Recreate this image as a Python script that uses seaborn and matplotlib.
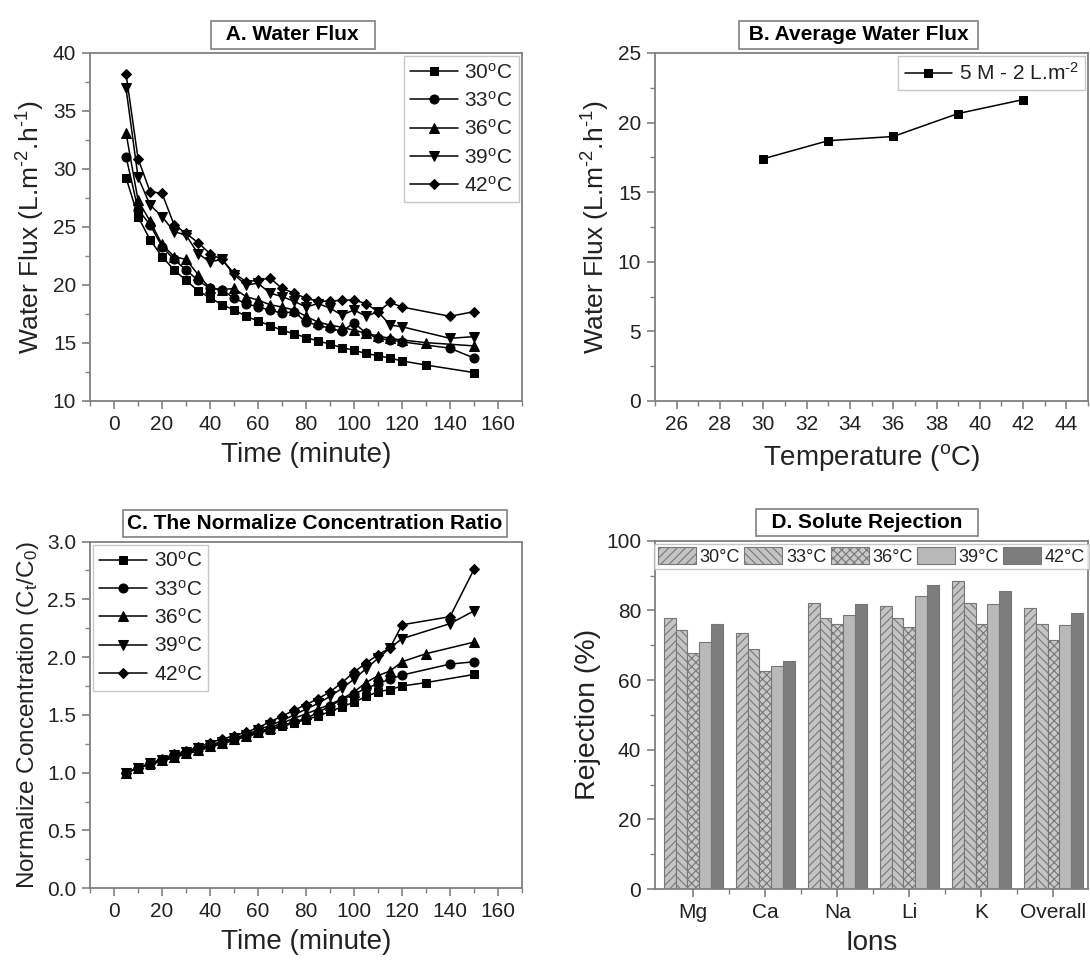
import matplotlib
matplotlib.use("Agg")
import matplotlib.pyplot as plt
import seaborn as sns
import pandas as pd
from matplotlib.ticker import MultipleLocator, FixedLocator, FormatStrFormatter

# ---------------- data ----------------
temps_labels = ["30", "33", "36", "39", "42"]

# Panel A: water flux vs time
tA_30 = [5,10,15,20,25,30,35,40,45,50,55,60,65,70,75,80,85,90,95,100,105,110,115,120,130,150]
fA_30 = [29.25,25.9,23.9,22.45,21.3,20.4,19.5,18.9,18.3,17.85,17.3,16.9,16.5,16.1,15.8,15.47,15.18,14.9,14.6,14.37,14.1,13.9,13.7,13.45,13.1,12.45]
tA_33 = [5,10,15,20,25,30,35,40,45,50,55,60,65,70,75,80,85,90,95,100,105,110,115,120,140,150]
fA_33 = [31.06,26.5,25.2,23.3,22.2,21.3,20.4,19.7,19.6,18.85,18.4,18.1,17.85,17.56,17.7,16.8,16.55,16.27,16.0,16.75,15.84,15.4,15.26,15.1,14.55,13.7]
tA_36 = [5,10,15,20,25,30,35,40,45,50,55,60,65,70,75,80,85,90,95,100,105,110,115,120,130,150]
fA_36 = [33.1,27.3,25.5,23.5,22.45,22.2,20.9,19.7,19.6,19.7,19.0,18.7,18.3,18.1,17.85,17.3,16.8,16.55,16.35,16.1,15.84,15.6,15.4,15.26,15.03,14.75]
tA_39 = [5,10,15,20,25,30,35,40,45,50,55,60,65,70,75,80,85,90,95,100,105,110,115,120,140,150]
fA_39 = [36.95,29.3,26.9,25.9,24.6,24.3,22.7,22.0,22.2,20.9,20.0,20.15,19.3,19.0,18.6,18.1,18.4,18.0,17.4,17.85,17.3,17.7,16.55,16.4,15.4,15.55]
tA_42 = [5,10,15,20,25,30,35,40,45,50,55,60,65,70,75,80,85,90,95,100,105,110,115,120,140,150]
fA_42 = [38.2,30.9,28.05,27.9,25.2,24.45,23.65,22.7,22.2,21.0,20.3,20.4,20.6,19.7,19.3,18.85,18.6,18.6,18.7,18.7,18.4,17.7,18.5,18.1,17.3,17.7]

# Panel B: average water flux vs temperature
tempB = [30, 33, 36, 39, 42]
fluxB = [17.4, 18.7, 19.0, 20.65, 21.65]

# Panel C: normalized concentration vs time
tC_30 = [5,10,15,20,25,30,35,40,45,50,55,60,65,70,75,80,85,90,95,100,105,110,115,120,130,150]
cC_30 = [1.00,1.04,1.07,1.10,1.13,1.16,1.19,1.22,1.25,1.28,1.31,1.34,1.37,1.40,1.43,1.46,1.49,1.53,1.57,1.61,1.66,1.70,1.72,1.75,1.78,1.85]
tC_33 = [5,10,15,20,25,30,35,40,45,50,55,60,65,70,75,80,85,90,95,100,105,110,115,120,140,150]
cC_33 = [1.00,1.04,1.08,1.11,1.14,1.17,1.20,1.23,1.26,1.29,1.32,1.35,1.38,1.41,1.44,1.47,1.52,1.58,1.63,1.68,1.73,1.77,1.81,1.845,1.94,1.96]
tC_36 = [5,10,15,20,25,30,35,40,45,50,55,60,65,70,75,80,85,90,95,100,105,110,115,120,130,150]
cC_36 = [1.00,1.04,1.08,1.11,1.14,1.17,1.20,1.23,1.26,1.29,1.32,1.35,1.39,1.43,1.47,1.51,1.55,1.59,1.64,1.70,1.78,1.84,1.88,1.96,2.03,2.13]
tC_39 = [5,10,15,20,25,30,35,40,45,50,55,60,65,70,75,80,85,90,95,100,105,110,115,120,140,150]
cC_39 = [1.00,1.04,1.08,1.11,1.15,1.18,1.21,1.24,1.27,1.30,1.33,1.37,1.41,1.45,1.50,1.55,1.60,1.66,1.73,1.81,1.90,1.99,2.08,2.16,2.29,2.40]
tC_42 = [5,10,15,20,25,30,35,40,45,50,55,60,65,70,75,80,85,90,95,100,105,110,115,120,140,150]
cC_42 = [1.00,1.04,1.08,1.12,1.16,1.19,1.22,1.26,1.29,1.32,1.35,1.39,1.44,1.49,1.54,1.59,1.64,1.70,1.78,1.87,1.95,2.02,2.08,2.28,2.35,2.76]

# Panel D: solute rejection
ions = ["Mg", "Ca", "Na", "Li", "K", "Overall"]
rej_30 = [77.8, 73.6, 82.0, 81.4, 88.5, 80.7]
rej_33 = [74.3, 68.9, 77.7, 77.7, 82.0, 76.2]
rej_36 = [67.7, 62.6, 76.0, 75.1, 76.0, 71.5]
rej_39 = [71.0, 63.9, 78.6, 84.2, 81.8, 75.8]
rej_42 = [76.2, 65.6, 81.8, 87.2, 85.6, 79.3]

# ---------------- style ----------------
sns.set_style("ticks")
plt.rcParams["font.family"] = ["Liberation Sans", "DejaVu Sans"]
plt.rcParams["mathtext.fontset"] = "custom"
plt.rcParams["mathtext.rm"] = "Liberation Sans"
plt.rcParams["mathtext.it"] = "Liberation Sans:italic"
plt.rcParams["mathtext.bf"] = "Liberation Sans:bold"
plt.rcParams["hatch.linewidth"] = 0.8

SPINE = "#808080"
TXT = "#222222"
TICK_FS = 15
XLAB_FS = 20
YLAB_FS = 19
LEG_FS = 15
TITLE_FS = 15

fig = plt.figure(figsize=(10.9, 9.63), dpi=100)
axA = fig.add_axes([0.0826, 0.5836, 0.3963, 0.3614])
axB = fig.add_axes([0.6010, 0.5836, 0.3972, 0.3614])
axC = fig.add_axes([0.0826, 0.0776, 0.3963, 0.3600])
axD = fig.add_axes([0.6010, 0.0768, 0.3972, 0.3617])


def style_axes(ax):
    for s in ax.spines.values():
        s.set_visible(True)
        s.set_color(SPINE)
        s.set_linewidth(1.3)
    ax.tick_params(which="major", direction="out", length=6, width=1.2,
                   color=SPINE, labelsize=TICK_FS, labelcolor=TXT, pad=4)
    ax.tick_params(which="minor", direction="out", length=3.5, width=1.0, color=SPINE)


def boxed_title(ax, text, xpos):
    ax.set_title(text, fontsize=TITLE_FS, fontweight="bold", color="black", pad=9, x=xpos,
                 bbox=dict(boxstyle="square,pad=0.2", fc="white", ec=SPINE, lw=1.2))


def line_legend(ax, loc):
    leg = ax.legend(loc=loc, fontsize=LEG_FS, frameon=True, fancybox=False,
                    edgecolor="#bbbbbb", handlelength=2.3, borderaxespad=0.15,
                    labelspacing=0.4, handletextpad=0.3, borderpad=0.3)
    leg.get_frame().set_linewidth(1.0)
    for t in leg.get_texts():
        t.set_color(TXT)
    return leg


HY = "\u2010"
markers = ["s", "o", "^", "v", "D"]
msizes = [6, 6.5, 6.5, 6.5, 5.5]
deg_labels = [f"{t}$^{{\\mathrm{{o}}}}$C" for t in temps_labels]
flux_label = f"Water Flux (L.m$^{{\\mathrm{{{HY}2}}}}$.h$^{{\\mathrm{{{HY}1}}}}$)"

# ---------------- Panel A ----------------
seriesA = [(tA_30, fA_30), (tA_33, fA_33), (tA_36, fA_36), (tA_39, fA_39), (tA_42, fA_42)]
for (t, v), m, ms, lab in zip(seriesA, markers, msizes, deg_labels):
    sns.lineplot(x=t, y=v, ax=axA, color="black", marker=m, markersize=ms,
                 markeredgecolor="black", linewidth=1.1, label=lab, sort=False)
axA.set_xlim(-10, 170)
axA.set_ylim(10, 40)
axA.xaxis.set_major_locator(MultipleLocator(20))
axA.xaxis.set_minor_locator(MultipleLocator(10))
axA.yaxis.set_major_locator(MultipleLocator(5))
axA.yaxis.set_minor_locator(MultipleLocator(2.5))
axA.set_xlabel("Time (minute)", fontsize=XLAB_FS, color=TXT, labelpad=6)
axA.set_ylabel(flux_label, fontsize=YLAB_FS, color=TXT, labelpad=4)
style_axes(axA)
boxed_title(axA, "  A. Water Flux  ", 0.47)
line_legend(axA, "upper right")

# ---------------- Panel B ----------------
sns.lineplot(x=tempB, y=fluxB, ax=axB, color="black", marker="s", markersize=6,
             markeredgecolor="black", linewidth=1.1,
             label=f"5 M - 2 L.m$^{{\\mathrm{{{HY}2}}}}$")
axB.set_xlim(25, 45)
axB.set_ylim(0, 25)
axB.xaxis.set_major_locator(FixedLocator([26, 28, 30, 32, 34, 36, 38, 40, 42, 44]))
axB.xaxis.set_minor_locator(MultipleLocator(1))
axB.yaxis.set_major_locator(MultipleLocator(5))
axB.yaxis.set_minor_locator(MultipleLocator(2.5))
axB.set_xlabel("Temperature ($^{\\mathrm{o}}$C)", fontsize=XLAB_FS, color=TXT, labelpad=6)
axB.set_ylabel(flux_label, fontsize=YLAB_FS, color=TXT, labelpad=4)
style_axes(axB)
boxed_title(axB, " B. Average Water Flux ", 0.47)
line_legend(axB, "upper right")

# ---------------- Panel C ----------------
seriesC = [(tC_30, cC_30), (tC_33, cC_33), (tC_36, cC_36), (tC_39, cC_39), (tC_42, cC_42)]
for (t, v), m, ms, lab in zip(seriesC, markers, msizes, deg_labels):
    sns.lineplot(x=t, y=v, ax=axC, color="black", marker=m, markersize=ms,
                 markeredgecolor="black", linewidth=1.1, label=lab, sort=False)
axC.set_xlim(-10, 170)
axC.set_ylim(0, 3.0)
axC.xaxis.set_major_locator(MultipleLocator(20))
axC.xaxis.set_minor_locator(MultipleLocator(10))
axC.yaxis.set_major_locator(MultipleLocator(0.5))
axC.yaxis.set_minor_locator(MultipleLocator(0.25))
axC.yaxis.set_major_formatter(FormatStrFormatter("%.1f"))
axC.set_xlabel("Time (minute)", fontsize=XLAB_FS, color=TXT, labelpad=6)
axC.set_ylabel("Normalize Concentration (C$_{\\mathrm{t}}$/C$_{\\mathrm{0}}$)", fontsize=17.5, color=TXT, labelpad=4)
style_axes(axC)
boxed_title(axC, "C. The Normalize Concentration Ratio", 0.52)
line_legend(axC, "upper left")

# ---------------- Panel D ----------------
rej_series = [rej_30, rej_33, rej_36, rej_39, rej_42]
temp_names = [f"{t}\u00b0C" for t in temps_labels]
dfD = pd.DataFrame({
    "Ion": ions * 5,
    "Temp": [n for n in temp_names for _ in ions],
    "Rejection": [v for s in rej_series for v in s],
})
bar_colors = ["#c4c4c4", "#c4c4c4", "#c8c8c8", "#b9b9b9", "#7d7d7d"]
hatches = ["////", "\\\\\\\\", "xxxx", "", ""]
sns.barplot(data=dfD, x="Ion", y="Rejection", hue="Temp", order=ions,
            hue_order=temp_names, palette=bar_colors, ax=axD, width=0.82,
            edgecolor="#8a8a8a", linewidth=0.8, legend=False, saturation=1)
for cont, h in zip(axD.containers, hatches):
    for p in cont.patches:
        p.set_hatch(h)
        p.set_edgecolor("#777777")
axD.set_xlim(-0.53, 5.48)
axD.set_ylim(0, 100)
axD.yaxis.set_major_locator(MultipleLocator(20))
axD.yaxis.set_minor_locator(MultipleLocator(10))
axD.xaxis.set_minor_locator(FixedLocator([0.5, 1.5, 2.5, 3.5, 4.5]))
axD.set_xlabel("Ions", fontsize=XLAB_FS, color=TXT, labelpad=6)
axD.set_ylabel("Rejection (%)", fontsize=20.5, color=TXT, labelpad=4)
style_axes(axD)
boxed_title(axD, "  D. Solute Rejection  ", 0.49)
legD = axD.legend(axD.containers, temp_names, loc="upper center",
                  bbox_to_anchor=(0.5, 0.997), ncol=5,
                  fontsize=13, frameon=True, fancybox=False, edgecolor="#bbbbbb",
                  handlelength=2.1, handleheight=1.05, handletextpad=0.2,
                  columnspacing=0.25, borderaxespad=0.1, borderpad=0.2)
legD.get_frame().set_linewidth(1.0)
for t in legD.get_texts():
    t.set_color(TXT)

fig.savefig("out.png", dpi=100)
